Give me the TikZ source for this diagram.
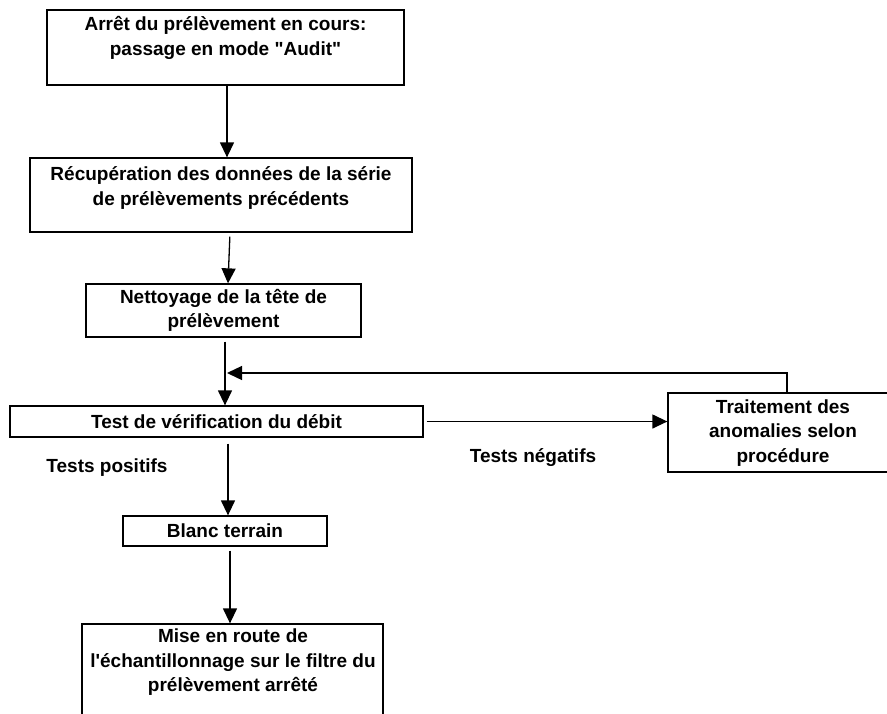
\documentclass[tikz,border=0pt]{standalone}
\usepackage{fontspec}
\setmainfont{Liberation Sans}
\usetikzlibrary{arrows.meta}
\begin{document}
\begin{tikzpicture}[x=1pt,y=-1pt,
  box/.style={draw=black,line width=1.3pt,inner sep=0pt,fill=white},
  lbl/.style={font=\bfseries\fontsize{19}{24.5}\selectfont,align=center,inner sep=0pt},
  arr/.style={draw=black,line width=1.3pt,-{Triangle[width=14pt,length=15pt]}}]
\useasboundingbox (0,0) rectangle (887,713);
\clip (0,0) rectangle (887,713);
% boxes
\node[box,minimum width=357pt,minimum height=75pt] (b1) at (225.5,47.5) {};
\node[box,minimum width=382pt,minimum height=74pt] (b2) at (221,195) {};
\node[box,minimum width=275pt,minimum height=53pt] (b3) at (223.5,310.5) {};
\node[box,minimum width=413pt,minimum height=31pt] (b4) at (216.5,421.5) {};
\node[box,minimum width=238pt,minimum height=79pt] (b5) at (787,432.5) {};
\node[box,minimum width=204pt,minimum height=30pt] (b6) at (225,531) {};
\node[box,minimum width=301pt,minimum height=120pt] (b7) at (232.5,684) {};
% texts
\node[lbl,anchor=north] (t1) at (225.5,16.5) {Arrêt du prélèvement en cours:\\passage en mode \textquotedbl Audit\textquotedbl};
\node[lbl,anchor=north] (t2) at (221,166.5) {Récupération des données de la série\\de prélèvements précédents};
\node[lbl] (t3) at (b3) {Nettoyage de la tête de\\prélèvement};
\node[lbl] (t4) at (b4) {Test de vérification du débit};
\node[lbl] (t5) at (783,433) {Traitement des\\anomalies selon\\procédure};
\node[lbl] (t6) at (b6) {Blanc terrain};
\node[lbl,anchor=north] (t7) at (233,629) {Mise en route de\\l\textquotesingle échantillonnage sur le filtre du\\prélèvement arrêté};
\node[lbl] (pos) at (107,468) {Tests positifs};
\node[lbl] (neg) at (533,458) {Tests négatifs};
% connectors
\coordinate (fb) at (227,373);
\draw[arr] ([xshift=1.5pt]b1.south) -- ([xshift=6pt]b2.north);
\draw[arr,shorten <=4pt] ([xshift=9pt]b2.south) -- ([xshift=4.5pt]b3.north);
\draw[arr,shorten <=4pt] ([xshift=1.5pt]b3.south) -- ([xshift=8.5pt]b4.north);
\draw[arr] (b5.north) |- (fb);
\draw[arr,shorten <=3pt] (b4.east) -- (b4.east -| b5.west);
\draw[arr,shorten <=6pt] ([xshift=11.5pt]b4.south) -- ([xshift=3pt]b6.north);
\draw[arr,shorten <=4pt] ([xshift=5pt]b6.south) -- ([xshift=-2.5pt]b7.north);
\end{tikzpicture}
\end{document}
